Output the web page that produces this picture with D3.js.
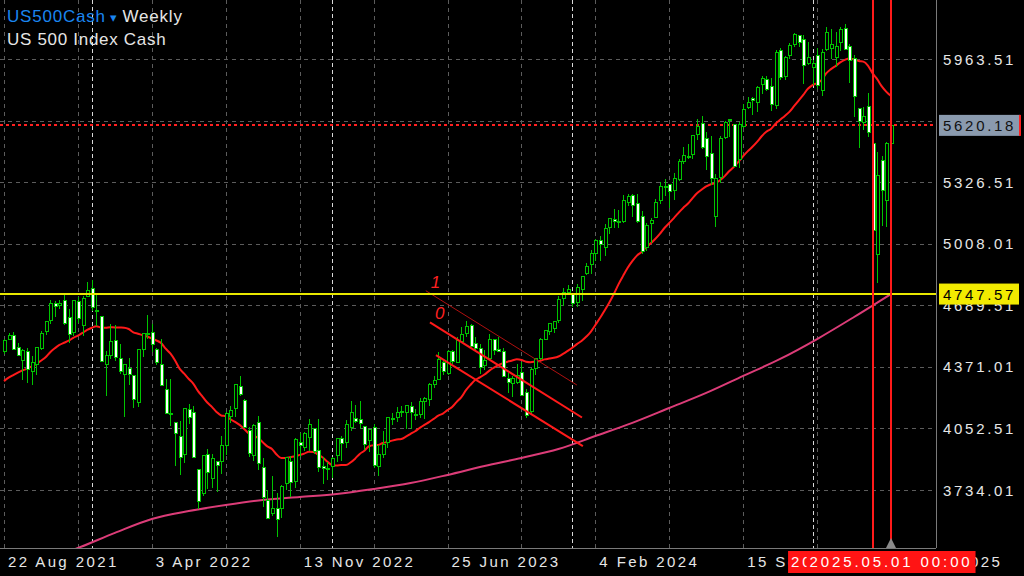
<!DOCTYPE html>
<html><head><meta charset="utf-8">
<script src="https://cdn.jsdelivr.net/npm/d3@7"></script>
<style>html,body{margin:0;padding:0;background:#000;overflow:hidden}svg{display:block}</style>
</head><body><svg id="c" width="1024" height="576"></svg>
<script>
// ---- weekly OHLC, first bar = week of 22 Aug 2021 ----
const opens=[4450,4513,4535,4469,4402,4450,4348,4385,4464,4553,
4610,4701,4689,4712,4628,4548,4710,4587,4733,4778,
4655,4632,4381,4431,4505,4412,4332,4363,4327,4188,
4462,4541,4547,4462,4385,4255,4130,4081,4013,3920,
4151,4134,3838,3715,3920,3792,3880,3883,3965,4112,
4155,4269,4195,4041,3910,4084,3849,3682,3610,3640,
3638,3766,3881,3780,3978,3956,4005,4053,3940,3853,
3843,3853,3911,3999,3979,4056,4106,4098,4061,3992,
4055,3856,3917,3982,4102,4110,4140,4134,4166,4124,
4126,4190,4200,4282,4308,4396,4337,4450,4394,4502,
4543,4584,4492,4465,4380,4415,4510,4463,4453,4310,
4284,4289,4342,4239,4140,4364,4412,4514,4555,4569,
4610,4725,4758,4745,4703,4772,4853,4899,4957,5026,
4989,5093,5132,5124,5123,5219,5257,5218,5149,4987,
5114,5143,5233,5305,5316,5283,5341,5432,5460,5471,
5572,5630,5554,5477,5151,5353,5559,5644,5623,5442,
5615,5711,5757,5737,5832,5857,5822,5723,6008,5874,
5982,6040,6083,6063,5940,5920,5982,5800,6014,6017,
5970,6048,6121,6026,5968,5705,5635,5718,5527,4953,
5441,5233,5525];
const highs=[4513,4545,4549,4492,4465,4466,4429,4475,4559,4608,
4718,4714,4718,4744,4672,4713,4731,4740,4808,4818,
4749,4632,4453,4595,4590,4490,4385,4416,4327,4465,
4546,4637,4593,4471,4513,4308,4308,4082,4090,4158,
4177,4169,3839,3913,3946,3918,3882,4012,4140,4167,
4280,4325,4203,4062,4076,4119,3900,3736,3806,3718,
3762,3905,3911,4001,4028,4034,4100,4056,4101,3906,
3879,3907,4003,4015,4095,4195,4176,4195,4064,4048,
4078,3965,4039,4110,4133,4163,4170,4170,4187,4154,
4212,4213,4290,4323,4448,4400,4458,4456,4528,4578,
4607,4594,4527,4490,4458,4541,4514,4527,4466,4338,
4324,4385,4394,4259,4365,4415,4521,4560,4595,4610,
4739,4778,4793,4754,4798,4842,4907,4975,5030,5048,
5111,5140,5190,5180,5261,5265,5264,5263,5175,5114,
5139,5239,5325,5342,5318,5375,5447,5506,5524,5570,
5655,5670,5585,5566,5370,5563,5643,5651,5626,5636,
5733,5767,5765,5822,5878,5878,5866,6012,6018,5977,
6044,6099,6085,6090,6049,5956,6021,6014,6128,6120,
6101,6127,6147,6043,5986,5710,5715,5786,5695,5481,
5460,5533,5640];
const lows=[4436,4509,4457,4427,4305,4288,4278,4329,4459,4537,
4595,4630,4672,4585,4495,4532,4600,4531,4733,4662,
4582,4395,4222,4414,4401,4335,4114,4279,4157,4161,
4424,4517,4450,4381,4270,4128,4063,3859,3811,3875,
4074,3901,3637,3705,3738,3742,3722,3819,3913,4080,
4112,4219,4057,3906,3886,3838,3647,3584,3600,3491,
3590,3735,3698,3742,3906,3938,3938,3918,3827,3764,
3784,3794,3877,3885,3949,4037,4079,4047,3943,3928,
3847,3808,3901,3951,4069,4085,4114,4049,4048,4098,
4104,4103,4166,4261,4305,4328,4328,4385,4390,4497,
4527,4474,4457,4335,4356,4408,4431,4448,4316,4238,
4217,4283,4224,4104,4127,4329,4404,4511,4537,4546,
4598,4688,4751,4682,4683,4714,4845,4853,4918,4920,
4946,5057,5087,5091,5117,5203,5146,5115,4954,4970,
5011,5142,5211,5257,5191,5234,5330,5420,5446,5446,
5546,5497,5390,5311,5095,5321,5552,5560,5403,5402,
5604,5704,5674,5690,5784,5798,5696,5707,5853,5856,
5963,6024,6026,5832,5933,5829,5809,5774,6005,5962,
5923,6003,6009,5837,5666,5505,5597,5560,5069,4805,
5101,5094,5433];
const closes=[4509,4535,4459,4432,4455,4357,4391,4471,4545,4605,
4697,4683,4698,4595,4538,4712,4620,4725,4766,4677,
4662,4398,4432,4500,4419,4349,4385,4329,4204,4463,
4543,4546,4488,4392,4272,4132,4123,4024,3901,4158,
4109,3901,3675,3912,3825,3899,3863,3962,4130,4145,
4280,4228,4058,3924,4067,3873,3693,3586,3640,3583,
3752,3901,3771,3993,3965,4026,4071,3934,3852,3845,
3840,3895,3999,3973,4071,4136,4090,4079,3970,4046,
3862,3917,3971,4109,4105,4137,4133,4169,4136,4124,
4192,4205,4282,4299,4410,4348,4450,4399,4505,4536,
4582,4478,4464,4370,4406,4515,4457,4450,4320,4288,
4309,4327,4224,4117,4358,4415,4514,4559,4595,4604,
4719,4754,4770,4697,4784,4840,4891,4959,5027,5005,
5089,5137,5124,5117,5234,5254,5204,5123,4967,5100,
5128,5223,5303,5305,5278,5347,5431,5465,5460,5567,
5615,5505,5459,5346,5344,5554,5634,5648,5408,5626,
5703,5738,5751,5815,5865,5808,5729,5995,5870,5969,
6032,6090,6051,5931,5971,5942,5827,5997,6101,6040,
6026,6114,6013,5955,5770,5639,5667,5581,5074,5363,
5283,5525,5620.18];
// 19 weekly closes before the first bar (for the 20-period average)
const priorCloses=[4185,4180,4181,4232,4174,4156,4204,4230,4247,4166,4281,4352,4370,4327,4412,4395,4437,4468,4442];
// slow (pink) moving average, read every 8 bars
const slowMAIdx=[0,8,16,24,32,40,48,56,64,72,80,88,96,104,112,120,128,136,144,152,160,168,176,184,192];
const slowMA=[3294,3367,3434,3512,3584,3625,3656,3682,3698,3713,3739,3770,3812,3858,3900,3946,4013,4081,4158,4236,4324,4412,4515,4629,4748];
// axes
const priceTicks=[3415.51,3734.01,4052.51,4371.01,4689.51,5008.01,5326.51,5645.01,5963.51,6282.01];
const timeLabelIdx=[0,32,64,96,128,160,192];
const timeLabels=["22 Aug 2021","3 Apr 2022","13 Nov 2022","25 Jun 2023","4 Feb 2024","15 Sep 2024","27 Apr 2025"];
const gridIdx=[0,16,32,48,64,80,96,112,128,144,160,176,192];
const yearSepIdx=[19,71,123,175];
// objects
const bidPrice=5620.18;
const hLinePrice=4747.57;
const vLineIdx=[188,192];
const vLineLabels=["2025.03.30 00:00","2025.05.01 00:00"];
const chanNames=["1","0",""];
const chanStartIdx=[91.3,92.2,93.5];
const chanEndIdx=[124.0,125.1,125.3];
const chanStartPrice=[4765,4601,4432];
const chanEndPrice=[4277,4109,3961];

const svg=d3.select('#c');
const PR=936, PB=548;
const font='"Liberation Sans", Arial, Helvetica, sans-serif';
svg.append('rect').attr('width',1024).attr('height',576).attr('fill','#000');
svg.append('defs').append('clipPath').attr('id','clip').append('rect').attr('x',0).attr('y',0).attr('width',PR).attr('height',PB);

const x=d3.scaleLinear().domain([0,192]).range([4,4+4.62*192]);
const y=d3.scaleLinear().domain([3734.01,5963.51]).range([490,59]);
const g=svg.append('g').attr('clip-path','url(#clip)');

// grid
g.selectAll('.hg').data(priceTicks).enter().append('line')
 .attr('x1',0).attr('x2',PR).attr('y1',d=>Math.round(y(d))+0.5).attr('y2',d=>Math.round(y(d))+0.5)
 .attr('stroke','#5c5c5c').attr('stroke-dasharray','4,4');
g.selectAll('.vg').data(gridIdx).enter().append('line')
 .attr('x1',d=>Math.round(x(d))+0.5).attr('x2',d=>Math.round(x(d))+0.5).attr('y1',0).attr('y2',PB)
 .attr('stroke','#5c5c5c').attr('stroke-dasharray','4,4');
g.selectAll('.ys').data(yearSepIdx).enter().append('line')
 .attr('x1',d=>Math.round(x(d))+0.5).attr('x2',d=>Math.round(x(d))+0.5).attr('y1',0).attr('y2',PB)
 .attr('stroke','#d8d8d8').attr('stroke-dasharray','4,3');

// moving averages
const allC=priorCloses.concat(closes);
const fast=closes.map((c,i)=>d3.mean(allC.slice(i,i+20)));
const line=d3.line().x(d=>x(d[0])).y(d=>y(d[1])).curve(d3.curveMonotoneX);
g.append('path').attr('d',line(slowMAIdx.map((d,i)=>[d,slowMA[i]]))).attr('fill','none').attr('stroke','#dc3c78').attr('stroke-width',2);
g.append('path').attr('d',line(fast.map((d,i)=>[i,d]))).attr('fill','none').attr('stroke','#ff1a1a').attr('stroke-width',2);

// bid line
g.append('line').attr('x1',0).attr('x2',PR).attr('y1',Math.round(y(bidPrice))).attr('y2',Math.round(y(bidPrice)))
 .attr('stroke','#ff2020').attr('stroke-width',2).attr('stroke-dasharray','3,3');

// candles
const green='#00c400';
const cg=g.append('g').attr('shape-rendering','crispEdges');
closes.forEach((c,i)=>{
  const cx=Math.round(x(i));
  cg.append('line').attr('x1',cx+0.5).attr('x2',cx+0.5).attr('y1',y(highs[i])).attr('y2',y(lows[i])).attr('stroke',green);
  const top=y(Math.max(opens[i],c)), bot=y(Math.min(opens[i],c));
  cg.append('rect').attr('x',cx-1).attr('y',top).attr('width',3).attr('height',Math.max(1,bot-top))
    .attr('fill',c>=opens[i]?'#000':'#fff').attr('stroke',green).attr('stroke-width',1);
});

// channel objects
chanNames.forEach((n,k)=>{
  const x1=x(chanStartIdx[k]), y1=y(chanStartPrice[k]), x2=x(chanEndIdx[k]), y2=y(chanEndPrice[k]);
  g.append('line').attr('x1',x1).attr('y1',y1).attr('x2',x2).attr('y2',y2)
   .attr('stroke',k===0?'#b01010':'#ff1a1a').attr('stroke-width',k===0?1:2);
  if(n) g.append('text').attr('x',x1+5).attr('y',y1-3).text(n).attr('fill','#ff2020')
   .attr('font-family',font).attr('font-style','italic').attr('font-size',17);
});

// horizontal line object
g.append('line').attr('x1',0).attr('x2',PR).attr('y1',y(hLinePrice)).attr('y2',y(hLinePrice)).attr('stroke','#e8e800').attr('stroke-width',2);
// vertical lines
g.selectAll('.vl').data(vLineIdx).enter().append('line')
 .attr('x1',d=>Math.round(x(d))).attr('x2',d=>Math.round(x(d))).attr('y1',0).attr('y2',PB)
 .attr('stroke','#ff1a1a').attr('stroke-width',2);
// end marker
const ex=Math.round(x(192));
svg.append('path').attr('d',`M${ex-5},${PB} L${ex},${PB-10} L${ex+5},${PB} Z`).attr('fill','#8a8a8a');

// axis frame
svg.append('line').attr('x1',PR+0.5).attr('x2',PR+0.5).attr('y1',0).attr('y2',PB).attr('stroke','#7a7a7a');
svg.append('line').attr('x1',0).attr('x2',PR).attr('y1',PB+0.5).attr('y2',PB+0.5).attr('stroke','#7a7a7a');

// price labels
svg.selectAll('.pl').data(priceTicks.filter(d=>y(d)>5&&y(d)<PB-5)).enter().append('text')
 .attr('x',943).attr('y',d=>y(d)+5.5).text(d=>d.toFixed(2))
 .attr('fill','#e6e6e6').attr('font-family',font).attr('font-size',15).attr('letter-spacing',2.7);
// bid box
const by=y(bidPrice);
svg.append('rect').attr('x',939).attr('y',by-10.5).attr('width',81).attr('height',21).attr('fill','#8a9aae');
svg.append('rect').attr('x',1019).attr('y',by-10.5).attr('width',2).attr('height',21).attr('fill','#ff2020');
svg.append('text').attr('x',943).attr('y',by+5.5).text(bidPrice.toFixed(2)).attr('fill','#111')
 .attr('font-family',font).attr('font-size',15).attr('letter-spacing',2.7);
// hline box
const hy=y(hLinePrice);
svg.append('rect').attr('x',939).attr('y',hy-10.5).attr('width',80).attr('height',21).attr('fill','#f2ea00');
svg.append('text').attr('x',943).attr('y',hy+5.5).text(hLinePrice.toFixed(2)).attr('fill','#000')
 .attr('font-family',font).attr('font-size',15).attr('letter-spacing',2.7);

// time labels
svg.selectAll('.tl').data(timeLabelIdx).enter().append('text')
 .attr('x',d=>x(d)+4).attr('y',567).text((d,i)=>timeLabels[i])
 .attr('fill','#e6e6e6').attr('font-family',font).attr('font-size',15).attr('letter-spacing',2.4);
vLineIdx.forEach((d,i)=>{
  const cx=x(d);
  svg.append('rect').attr('x',cx-84.5).attr('y',551).attr('width',169).attr('height',22).attr('fill','#ff1414');
  svg.append('text').attr('x',cx).attr('y',567).attr('text-anchor','middle').text(vLineLabels[i])
   .attr('fill','#fff').attr('font-family',font).attr('font-size',15).attr('letter-spacing',2.9);
});

// title
const t1=svg.append('text').attr('x',7).attr('y',22).attr('font-family',font).attr('font-size',17).attr('letter-spacing',0.8);
t1.append('tspan').text('US500Cash').attr('fill','#1a86f0');
t1.append('tspan').text(' \u25BE ').attr('fill','#1a86f0').attr('font-size',13);
t1.append('tspan').text('Weekly').attr('fill','#e6e6e6');
svg.append('text').attr('x',7).attr('y',45).text('US 500 Index Cash').attr('fill','#e6e6e6')
 .attr('font-family',font).attr('font-size',17).attr('letter-spacing',0.7);
</script></body></html>
